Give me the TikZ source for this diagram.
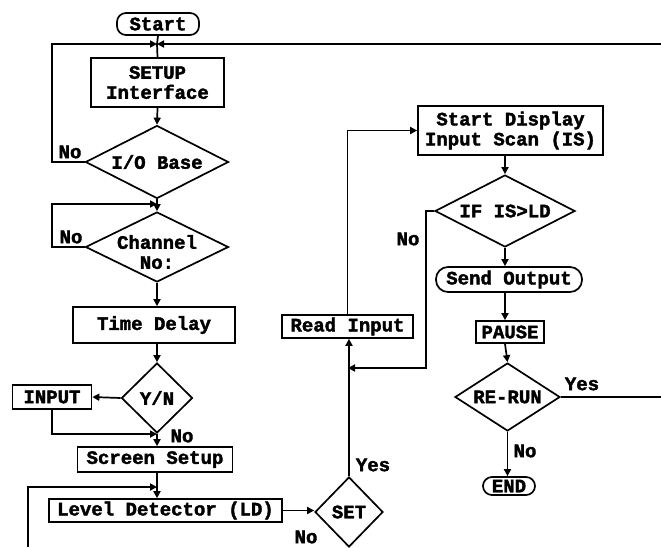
\documentclass[tikz,border=0pt]{standalone}
\usepackage{fontspec}
\newfontfamily\dotfont{Liberation Mono}[BoldFeatures={FakeBold=2}]
\usetikzlibrary{arrows.meta,shapes.geometric}
\begin{document}
\begin{tikzpicture}[x=1pt,y=-1pt,
  txt/.style={font=\dotfont\bfseries\fontsize{19}{20}\selectfont, align=center, inner sep=0pt},
  lbl/.style={txt},
  blk/.style={draw, line width=1.7pt, txt, inner sep=0pt},
  boxn/.style={blk, rectangle},
  term/.style={blk, rectangle, rounded corners=9pt},
  dia/.style={draw, line width=1.7pt, diamond, inner sep=0pt},
  ln/.style={line width=1.7pt},
  arr/.style={line width=1.7pt, -{Triangle[length=7pt,width=7pt]}}]
\useasboundingbox (0,0) rectangle (661,547);
% nodes
\node[term, minimum width=82pt, minimum height=22pt] (start) at (158,24) {Start};
\node[boxn, minimum width=133pt, minimum height=49pt] (setup) at (157.5,82.5) {SETUP\\Interface};
\node[dia, minimum width=143pt, minimum height=73pt, label={[txt]center:I/O Base}] (io) at (157,162) {};
\node[dia, minimum width=143pt, minimum height=70pt, label={[txt, yshift=-5pt]center:Channel\\No:}] (ch) at (157,247) {};
\node[boxn, minimum width=162pt, minimum height=36pt] (td) at (154,325) {Time Delay};
\node[dia, minimum width=71pt, minimum height=70pt, label={[txt]center:Y/N}] (yn) at (157,398) {};
\node[boxn, minimum width=79pt, minimum height=24pt] (inp) at (52,397) {INPUT};
\node[boxn, minimum width=155pt, minimum height=25pt] (ss) at (155,459.5) {Screen Setup};
\node[boxn, minimum width=233pt, minimum height=23pt] (ld) at (165.5,510.5) {Level Detector (LD)};
\node[dia, minimum width=68pt, minimum height=70pt, label={[txt]center:SET}] (set) at (349,512) {};
\node[boxn, minimum width=131pt, minimum height=23pt] (ri) at (347.5,326.5) {Read Input};
\node[boxn, minimum width=185pt, minimum height=49pt] (sd) at (510.5,130.5) {Start Display\\Input Scan (IS)};
\node[dia, minimum width=140pt, minimum height=72pt, label={[txt]center:IF IS>LD}] (if) at (505,211) {};
\node[term, rounded corners=12pt, minimum width=146pt, minimum height=25pt] (so) at (509,279.5) {Send Output};
\node[boxn, minimum width=68pt, minimum height=22pt] (pause) at (510,332) {PAUSE};
\node[dia, minimum width=105pt, minimum height=68pt, label={[txt]center:RE-RUN}] (rr) at (507.5,397) {};
\node[term, minimum width=52pt, minimum height=18pt] (end) at (509,486) {END};
% junctions / free ends
\coordinate (j1) at (157,44);
\coordinate (c1) at (52,44);
\coordinate (rt1) at (661,44);
\coordinate (j2) at (157,204);
\coordinate (c2) at (52,204);
\coordinate (j3) at (157,434);
\coordinate (j4) at (157,487);
\coordinate (bl) at (28,547);
\coordinate (j5) at (348,368);
\coordinate (rt2) at (661,397);
% connectors
\draw[ln] (start.south) -- (j1);
\draw[ln] (j1) -- (setup.north);
\draw[arr] (io.west) -- (io.west -| c1) -- (c1) -- (j1);
\draw[arr] (rt1) -- (j1);
\draw[arr] (setup.south) -- (io.north);
\draw[arr] (io.south) -- (ch.north);
\draw[arr] (ch.west) -- (ch.west -| c2) -- (c2) -- (j2);
\draw[arr] (ch.south) -- (ch.south |- td.north);
\draw[arr] (yn.north |- td.south) -- (yn.north);
\draw[arr] (yn.west) -- (inp.east);
\draw[arr] (inp.south) |- (j3);
\draw[arr] (yn.south) -- (yn.south |- ss.north);
\draw[arr] (bl) |- (j4);
\draw[arr] (j4 |- ss.south) -- (j4 |- ld.north);
\draw[arr] (ld.east) -- (ld.east -| set.west);
\draw[arr] (set.north) -- (set.north |- ri.south);
\draw[arr] (ri.north) |- (sd.west);
\draw[arr] (if.north |- sd.south) -- (if.north);
\draw[arr] (if.west) -- ++(-8,0) |- (j5);
\draw[arr] (if.south) -- (if.south |- so.north);
\draw[arr] (if.south |- so.south) -- (if.south |- pause.north);
\draw[arr] (if.south |- pause.south) -- (rr.north);
\draw[ln] (rr.east) -- (rt2);
\draw[arr] (rr.south) -- (rr.south |- end.north);
% labels
\node[lbl] (n1) at (70,152) {No};
\node[lbl] (n2) at (71,237) {No};
\node[lbl] (n3) at (182,436) {No};
\node[lbl] (n4) at (306,537) {No};
\node[lbl] (n5) at (408,239) {No};
\node[lbl] (n6) at (525,451) {No};
\node[lbl] (y1) at (373,465) {Yes};
\node[lbl] (y2) at (582,384) {Yes};
\end{tikzpicture}
\end{document}
